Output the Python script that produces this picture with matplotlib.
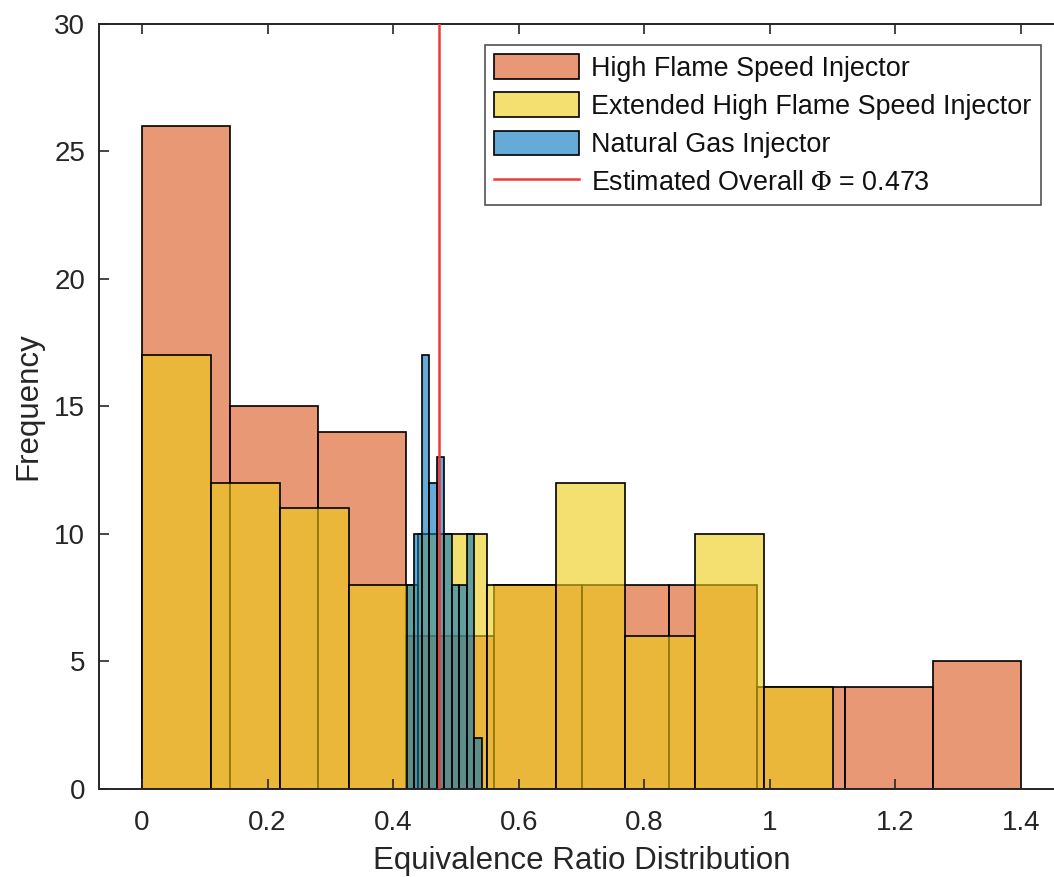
import matplotlib
matplotlib.use("Agg")
import matplotlib.pyplot as plt
import numpy as np

# Histogram data
hfs_edges = [0.0, 0.14, 0.28, 0.42, 0.56, 0.70, 0.84, 0.98, 1.12, 1.26, 1.40]
hfs_counts = [26, 15, 14, 6, 8, 8, 8, 4, 4, 5]

ext_edges = [0.0, 0.11, 0.22, 0.33, 0.44, 0.55, 0.66, 0.77, 0.88, 0.99, 1.10]
ext_counts = [17, 12, 11, 8, 10, 8, 12, 6, 10, 4]

ng_edges = [0.4215, 0.4334, 0.4454, 0.4573, 0.4693, 0.4812,
            0.4932, 0.5051, 0.5170, 0.5290, 0.5409]
ng_counts = [8, 10, 17, 12, 13, 10, 8, 8, 10, 2]

phi_overall = 0.473

labels = [
    "High Flame Speed Injector",
    "Extended High Flame Speed Injector",
    "Natural Gas Injector",
    r"Estimated Overall $\Phi$ = 0.473",
]

plt.rcParams["font.family"] = ["Liberation Sans", "DejaVu Sans"]
plt.rcParams["mathtext.fontset"] = "stix"

fig = plt.figure(figsize=(10.54, 8.77), dpi=100)
ax = fig.add_axes([99 / 1054, 88 / 877, 966 / 1054, 765.5 / 877])

axis_col = "#262626"


def _hist(edges, counts, color, label):
    edges = np.asarray(edges)
    return ax.bar(edges[:-1], counts, width=np.diff(edges), align="edge",
                  facecolor=color, edgecolor="black",
                  linewidth=1.2, label=label)


bars_hfs = _hist(hfs_edges, hfs_counts, (0.851, 0.325, 0.098, 0.6), labels[0])
bars_ext = _hist(ext_edges, ext_counts, (0.929, 0.80, 0.075, 0.6), labels[1])
bars_ng = _hist(ng_edges, ng_counts, (0.0, 0.447, 0.741, 0.6), labels[2])
phi_line = ax.axvline(phi_overall, color="#f03a3a", lw=1.8, label=labels[3],
                      zorder=5)

ax.set_xlim(-0.0685, 1.47)
ax.set_ylim(0, 30)
ax.set_xticks([0, 0.2, 0.4, 0.6, 0.8, 1.0, 1.2, 1.4])
ax.set_xticklabels(["0", "0.2", "0.4", "0.6", "0.8", "1", "1.2", "1.4"])
ax.set_yticks([0, 5, 10, 15, 20, 25, 30])

ax.tick_params(axis="both", direction="in", length=7, width=1.2,
               color=axis_col, labelcolor=axis_col, labelsize=20,
               top=True, right=True)
ax.tick_params(axis="x", pad=15)
ax.tick_params(axis="y", pad=10)
for sp in ax.spines.values():
    sp.set_color(axis_col)
    sp.set_linewidth(1.4)

ax.set_xlabel("Equivalence Ratio Distribution", fontsize=22.5,
              color=axis_col, labelpad=7)
ax.set_ylabel("Frequency", fontsize=22.5, color=axis_col, labelpad=8)

leg = ax.legend([bars_hfs, bars_ext, bars_ng, phi_line], labels,
                loc="upper right", bbox_to_anchor=(1041 / 1054, 1 - 45 / 877),
                bbox_transform=fig.transFigure, borderaxespad=0,
                fontsize=19.4, frameon=True, fancybox=False,
                handlelength=3.15, handleheight=1.0, handletextpad=0.45,
                labelspacing=0.4, borderpad=0.35)
leg.get_frame().set_edgecolor(axis_col)
leg.get_frame().set_linewidth(1.2)
for t in leg.get_texts():
    t.set_color("#111111")

fig.savefig("out.png", dpi=100)
